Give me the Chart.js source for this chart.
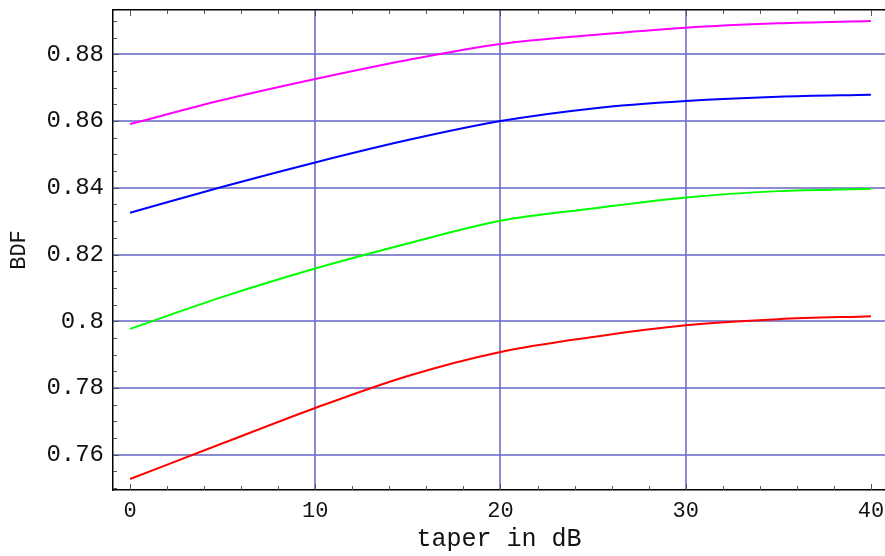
<!DOCTYPE html>
<html>
<head>
<meta charset="utf-8">
<script src="https://cdn.jsdelivr.net/npm/chart.js@4"></script>
<style>
  html, body { margin: 0; padding: 0; background: #fff; }
  #wrap { width: 885px; height: 556px; }
</style>
</head>
<body>
<div id="wrap"><canvas id="bdfChart" width="885" height="556"></canvas></div>
<script>
// taper values (dB)
const taper = [0, 5, 10, 15, 20, 25, 30, 35, 40];
// BDF curves
const magentaBdf = [0.8591, 0.8663, 0.8726, 0.8783, 0.8831, 0.8858, 0.8880, 0.8893, 0.8900];
const blueBdf    = [0.8325, 0.8403, 0.8476, 0.8543, 0.8600, 0.8638, 0.8660, 0.8673, 0.8679];
const greenBdf   = [0.7977, 0.8073, 0.8158, 0.8233, 0.8301, 0.8338, 0.8371, 0.8390, 0.8397];
const redBdf     = [0.7527, 0.7634, 0.7740, 0.7836, 0.7908, 0.7953, 0.7988, 0.8006, 0.8015];

const xTicks = [0, 10, 20, 30, 40];
const yTicks = [0.76, 0.78, 0.80, 0.82, 0.84, 0.86, 0.88];
const yTickLabels = ['0.76', '0.78', '0.8', '0.82', '0.84', '0.86', '0.88'];

const monoFont = '"Liberation Mono", "Courier New", monospace';
const gridBlue = 'rgba(110, 110, 200, 0.8)';

function pts(ys) {
    return taper.map((t, i) => ({ x: t, y: ys[i] }));
}

// no extra room for half labels at the ends
function noPad(s) {
    s.paddingTop = 0; s.paddingBottom = 0;
    s.paddingLeft = 0; s.paddingRight = 0;
}

// small inward tick marks on the frame, like the original plot
const frameTicks = {
    id: 'frameTicks',
    afterDraw(chart) {
        const ctx = chart.ctx;
        const xs = chart.scales.x;
        const ys = chart.scales.y;
        const a = chart.chartArea;
        ctx.save();
        ctx.strokeStyle = '#555';
        ctx.lineWidth = 1;
        ctx.beginPath();
        for (let v = 0; v <= 40; v += 2) {
            const px = Math.round(xs.getPixelForValue(v)) + 0.5;
            const len = v % 10 === 0 ? 6 : 4;
            ctx.moveTo(px, a.top); ctx.lineTo(px, a.top + len);
            ctx.moveTo(px, a.bottom); ctx.lineTo(px, a.bottom - len);
        }
        for (let k = 150; k <= 178; k++) {
            const v = k * 0.005;
            const py = Math.round(ys.getPixelForValue(v)) + 0.5;
            const len = k % 4 === 0 ? 6 : 4;
            ctx.moveTo(a.left, py); ctx.lineTo(a.left + len, py);
        }
        ctx.stroke();
        ctx.restore();
    }
};

const ctx = document.getElementById('bdfChart');
const chart = new Chart(ctx, {
    type: 'line',
    data: {
        datasets: [
            { label: 'magenta', data: pts(magentaBdf), borderColor: '#ff00ff' },
            { label: 'blue', data: pts(blueBdf), borderColor: '#0000ff' },
            { label: 'green', data: pts(greenBdf), borderColor: '#00ff00' },
            { label: 'red', data: pts(redBdf), borderColor: '#ff0000' }
        ]
    },
    options: {
        responsive: false,
        animation: false,
        layout: { autoPadding: false, padding: { top: 10, right: 0, left: 0, bottom: 0 } },
        datasets: {
            line: {
                borderWidth: 2,
                pointRadius: 0,
                cubicInterpolationMode: 'monotone',
                fill: false
            }
        },
        plugins: {
            legend: { display: false },
            tooltip: { enabled: false }
        },
        scales: {
            x: {
                type: 'linear',
                position: 'bottom',
                min: -0.92,
                max: 40.76,
                afterBuildTicks: s => { s.ticks = xTicks.map(v => ({ value: v })); },
                afterFit: s => { s.height = 66; noPad(s); },
                ticks: {
                    font: { family: monoFont, size: 22 },
                    color: '#111',
                    padding: 8,
                    maxRotation: 0
                },
                grid: {
                    color: c => (c.tick && (c.tick.value === 10 || c.tick.value === 20 || c.tick.value === 30)) ? gridBlue : 'rgba(0,0,0,0)',
                    lineWidth: 2,
                    drawTicks: false
                },
                border: { display: true, color: '#000', width: 1.5 },
                title: {
                    display: true,
                    text: 'taper in dB',
                    font: { family: monoFont, size: 25 },
                    color: '#111',
                    padding: { top: 0, bottom: 2 }
                }
            },
            xTop: {
                type: 'linear',
                position: 'top',
                min: -0.92,
                max: 40.76,
                afterFit: s => { s.height = 0; noPad(s); },
                ticks: { display: false },
                grid: { display: false, drawTicks: false },
                border: { display: true, color: '#000', width: 1.5 }
            },
            y: {
                type: 'linear',
                min: 0.7494,
                max: 0.8933,
                afterBuildTicks: s => { s.ticks = yTicks.map(v => ({ value: v })); },
                afterFit: s => { s.width = 113; noPad(s); },
                ticks: {
                    font: { family: monoFont, size: 24 },
                    color: '#111',
                    padding: 9,
                    callback: (v, i) => yTickLabels[i]
                },
                grid: {
                    color: gridBlue,
                    lineWidth: 2,
                    drawTicks: false
                },
                border: { display: true, color: '#000', width: 1.5 },
                title: {
                    display: true,
                    text: 'BDF',
                    font: { family: monoFont, size: 22 },
                    color: '#111',
                    padding: { top: 6, bottom: 0 }
                }
            }
        }
    },
    plugins: [frameTicks]
});
</script>
</body>
</html>
